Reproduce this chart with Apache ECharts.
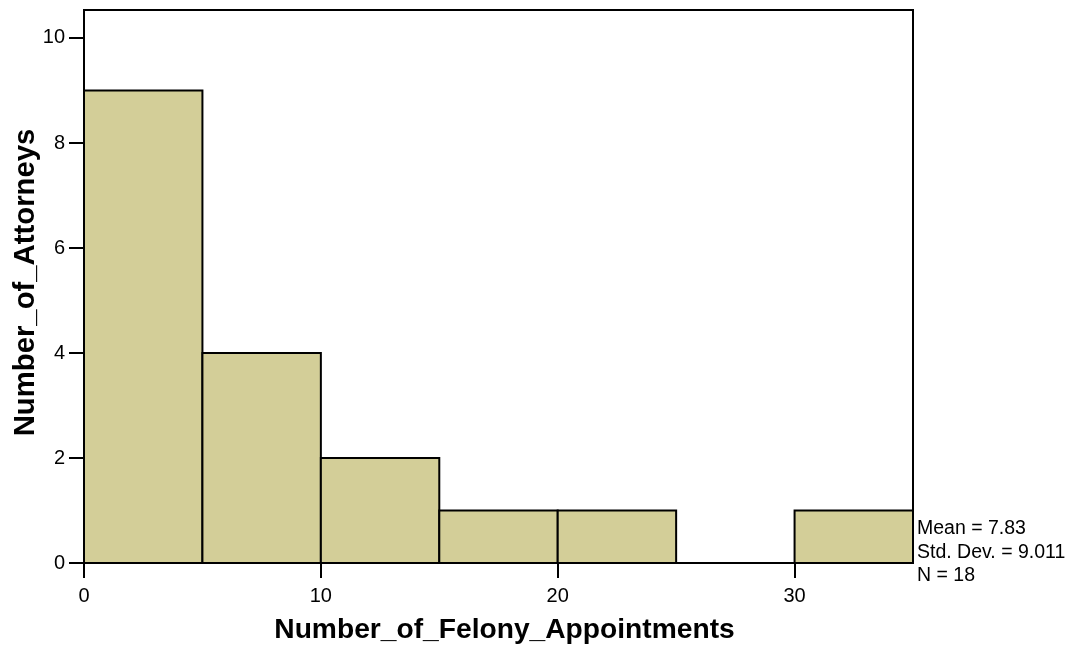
<!DOCTYPE html>
<html>
<head>
<meta charset="utf-8">
<style>
  html, body { margin: 0; padding: 0; background: #fff; }
  #chart { width: 1079px; height: 647px; }
</style>
<script src="https://cdn.jsdelivr.net/npm/echarts@6/dist/echarts.min.js"></script>
</head>
<body>
<div id="chart"></div>
<script>
// Histogram bins: [start, end) and the number of attorneys in each
const binStarts = [0, 5, 10, 15, 20, 25, 30];
const binEnds   = [5, 10, 15, 20, 25, 30, 35];
const counts    = [9, 4, 2, 1, 1, 0, 1];
const xTicks = [0, 10, 20, 30];
const yTicks = [0, 2, 4, 6, 8, 10];
const statLines = ['Mean = 7.83', 'Std. Dev. = 9.011', 'N = 18'];

const FONT = '"Liberation Sans", Arial, sans-serif';
const chart = echarts.init(document.getElementById('chart'), null, { renderer: 'canvas' });

const data = binStarts.map((s, i) => [s, binEnds[i], counts[i]]);

chart.setOption({
  animation: false,
  backgroundColor: '#ffffff',
  grid: {
    left: 84, top: 10, right: 166, bottom: 84,
    outerBoundsMode: 'none', containLabel: false,
    show: true, borderColor: '#000', borderWidth: 2, backgroundColor: 'transparent'
  },
  xAxis: {
    type: 'value', min: 0, max: 35, interval: 10,
    name: 'Number_of_Felony_Appointments', nameLocation: 'middle', nameGap: 53,
    nameMoveOverlap: false,
    nameTextStyle: { fontFamily: FONT, fontSize: 28.2, fontWeight: 'bold', color: '#000',
      padding: [0, 0, 0, 12] },
    axisLine: { show: true, onZero: false, lineStyle: { color: '#000', width: 2 } },
    axisTick: { show: true, length: 15, lineStyle: { color: '#000', width: 2 } },
    axisLabel: { fontFamily: FONT, fontSize: 20, color: '#000', margin: 23,
      formatter: v => xTicks.includes(v) ? String(v) : '', showMaxLabel: false },
    splitLine: { show: false }
  },
  yAxis: {
    type: 'value', min: 0, max: 10.533, interval: 2,
    name: 'Number_of_Attorneys', nameLocation: 'middle', nameGap: 44,
    nameMoveOverlap: false,
    nameTextStyle: { fontFamily: FONT, fontSize: 29.3, fontWeight: 'bold', color: '#000',
      padding: [0, 0, 0, 8] },
    axisLine: { show: true, lineStyle: { color: '#000', width: 2 } },
    axisTick: { show: true, length: 15, lineStyle: { color: '#000', width: 2 } },
    axisLabel: { fontFamily: FONT, fontSize: 20, color: '#000', margin: 19,
      formatter: v => yTicks.includes(v) ? String(v) : '', showMaxLabel: false },
    splitLine: { show: false }
  },
  series: [{
    type: 'custom',
    data: data,
    encode: { x: [0, 1], y: 2 },
    renderItem: function (params, api) {
      if (api.value(2) === 0) return null;
      const p0 = api.coord([api.value(0), 0]);
      const p1 = api.coord([api.value(1), api.value(2)]);
      return {
        type: 'rect',
        shape: { x: p0[0], y: p1[1], width: p1[0] - p0[0], height: p0[1] - p1[1] },
        style: { fill: '#d3ce98', stroke: '#000', lineWidth: 2 }
      };
    }
  }],
  graphic: statLines.map((t, i) => ({
    type: 'text', x: 917, y: 529 + i * 23.5,
    style: { text: t, font: '19.5px ' + FONT, fill: '#000', verticalAlign: 'middle' }
  }))
});
</script>
</body>
</html>
